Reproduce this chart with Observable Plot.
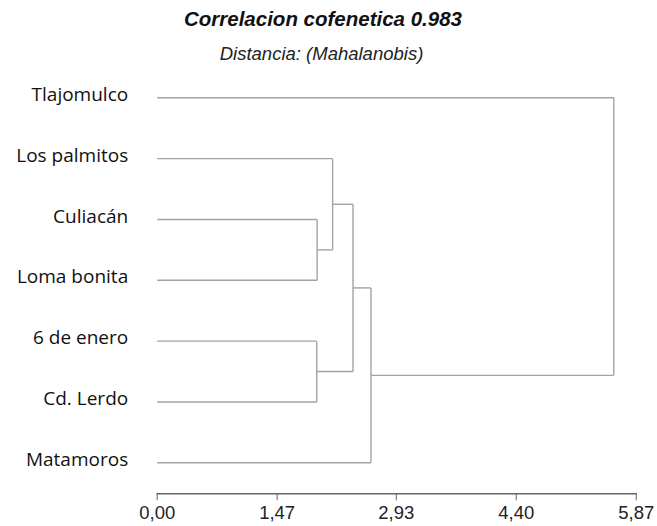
<!DOCTYPE html>
<html>
<head>
<meta charset="utf-8">
<script src="https://cdn.jsdelivr.net/npm/d3@7"></script>
<script src="https://cdn.jsdelivr.net/npm/@observablehq/plot@0.6"></script>
<style>
  body { margin: 0; background: #fff; }
  #wrap { position: relative; width: 657px; }
  #head { position: relative; width: 657px; height: 70px; }
  #title { position: absolute; left: 0; width: 646px; top: 9px; text-align: center;
    font: italic bold 20.5px "Liberation Sans", Arial, sans-serif; line-height: 1; color: #111; }
  #subtitle { position: absolute; left: 0; width: 643px; top: 45px; text-align: center;
    font: italic 18.5px "Liberation Sans", Arial, sans-serif; line-height: 1; color: #222; }
</style>
</head>
<body>
<div id="wrap">
  <div id="head">
    <div id="title">Correlacion cofenetica 0.983</div>
    <div id="subtitle">Distancia: (Mahalanobis)</div>
  </div>
  <div id="chart"></div>
</div>
<script>
// Leaves in display order (top to bottom)
const leaves = ["Tlajomulco", "Los palmitos", "Culiacán", "Loma bonita", "6 de enero", "Cd. Lerdo", "Matamoros"];
// Merge steps (hclust style: negative = leaf number, positive = earlier merge step)
const mergeLeft  = [-3, -5, -2, 3, 4, -1];
const mergeRight = [-4, -6,  1, 2, -7, 5];
const mergeHeight = [1.96, 1.955, 2.15, 2.40, 2.62, 5.595];
// Axis ticks
const tickValues = [0, 1.47, 2.93, 4.40, 5.87];

// Build dendrogram segments
const nodes = [];
function pos(id) {
  if (id < 0) return {x: 0, y: -id - 1};
  return nodes[id - 1];
}
const segs = [];
for (let i = 0; i < mergeHeight.length; i++) {
  const a = pos(mergeLeft[i]), b = pos(mergeRight[i]), h = mergeHeight[i];
  segs.push({x1: a.x, y1: a.y, x2: h, y2: a.y});
  segs.push({x1: b.x, y1: b.y, x2: h, y2: b.y});
  segs.push({x1: h, y1: a.y, x2: h, y2: b.y});
  nodes.push({x: h, y: (a.y + b.y) / 2});
}
const leafData = leaves.map((name, i) => ({name, i}));

const fmt = d => d3.format(".2f")(d).replace(".", ",");

const chart = Plot.plot({
  width: 657,
  height: 456,
  marginLeft: 156.7,
  marginRight: 21.3,
  marginTop: 10,
  marginBottom: 32.7,
  style: {background: "#fff", overflow: "visible"},
  x: {domain: [0, 5.87]},
  y: {domain: [0, 6], range: [27.3, 392.3], axis: null},
  marks: [
    Plot.link(segs, {x1: "x1", y1: "y1", x2: "x2", y2: "y2", stroke: "#a3a3a3", strokeWidth: 1.4}),
    Plot.text(leafData, {x: 0, y: "i", text: "name", textAnchor: "end", dx: -29, dy: -3,
      fontSize: 19, fontFamily: "Open Sans", fill: "#111"}),
    Plot.frame({anchor: "bottom", stroke: "#666", strokeWidth: 1.4}),
    Plot.axisX({ticks: tickValues, tickFormat: fmt, tickSize: 7, tickPadding: 5,
      fontSize: 18.5, fontFamily: "Liberation Sans", stroke: "#666", fill: "#222", label: null})
  ]
});
document.getElementById("chart").appendChild(chart);
</script>
</body>
</html>
